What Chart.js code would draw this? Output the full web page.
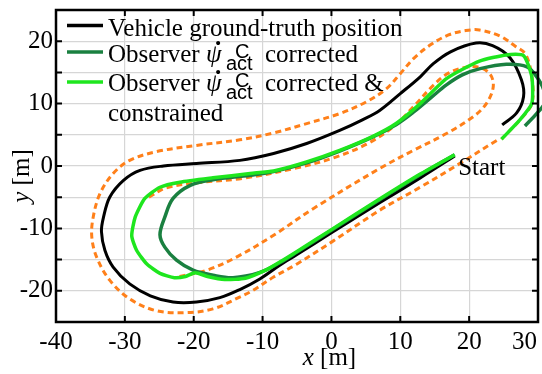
<!DOCTYPE html>
<html>
<head>
<meta charset="utf-8">
<title>Vehicle and observer trajectories</title>
<script src="https://cdn.jsdelivr.net/npm/chart.js@4.4.1/dist/chart.umd.min.js"></script>
<style>
  html, body { margin: 0; padding: 0; background: #fff; }
  #box { position: relative; width: 542px; height: 374px; }
</style>
</head>
<body>
<div id="box"><canvas id="plot"></canvas></div>
<script>
// Grid / tick positions
const xGridValues = [-40, -30, -20, -10, 0, 10, 20, 30];
const yGridValues = [-25, -20, -15, -10, -5, 0, 5, 10, 15, 20, 25];
const yTickLabels = [-20, -10, 0, 10, 20];

// Vehicle ground-truth position [m]
const truthX = [17.9, 12.9, 7.0, 0.0, -5.0, -7.5, -10.4, -13.3, -16.2, -19.6, -23.0, -26.3, -29.3, -31.7, -32.9, -33.4, -33.1, -32.2, -30.2, -27.8, -24.4, -19.6, -13.3, -8.4, -3.6, 1.2, 4.5, 7.0, 10.0, 12.9, 14.8, 17.3, 21.0, 23.4, 25.9, 27.6, 27.9, 26.9, 24.8];
const truthY = [1.6, -1.9, -5.9, -10.7, -14.2, -15.9, -18.1, -19.8, -21.1, -21.8, -21.8, -20.8, -18.9, -16.2, -13.5, -10.5, -8.2, -5.0, -2.3, -0.7, 0.0, 0.4, 0.9, 2.0, 3.6, 5.7, 7.4, 8.9, 11.6, 14.3, 16.4, 18.3, 19.7, 19.3, 17.4, 13.8, 11.1, 8.5, 6.6];

// Observer, yaw rate corrected
const obsX = [17.9, 12.9, 7.0, 0.0, -5.0, -7.5, -10.5, -14.3, -17.2, -20.1, -22.5, -24.2, -24.9, -24.2, -23.0, -20.5, -17.2, -11.8, -8.4, -3.6, 1.2, 6.1, 9.5, 12.0, 14.5, 16.7, 19.0, 21.6, 25.4, 28.4, 29.8, 30.8, 31.0, 29.8, 28.1];
const obsY = [1.8, -1.4, -5.4, -10.3, -13.8, -15.5, -17.1, -17.9, -17.5, -16.7, -15.1, -13.0, -11.0, -8.2, -5.2, -3.1, -2.2, -1.5, -0.9, 0.5, 2.4, 4.7, 6.7, 8.7, 11.0, 13.0, 14.6, 15.6, 16.3, 15.9, 14.3, 12.3, 10.2, 8.4, 6.4];

// Observer, yaw rate corrected and constrained to the track
const consX = [17.9, 12.9, 7.0, 0.0, -5.0, -7.5, -9.4, -12.5, -15.5, -18.0, -19.8, -21.2, -22.8, -24.9, -26.8, -28.3, -29.0, -28.5, -27.1, -24.9, -22.0, -17.2, -11.8, -8.4, -3.6, 1.2, 6.1, 9.5, 12.9, 16.7, 21.5, 25.4, 27.9, 29.1, 29.1, 27.3, 24.7];
const consY = [1.8, -1.3, -5.3, -10.2, -13.7, -15.4, -16.6, -18.0, -18.2, -17.7, -17.1, -17.7, -17.9, -17.2, -15.7, -13.5, -11.2, -8.2, -5.2, -3.4, -2.6, -1.9, -1.2, -0.8, 0.65, 2.5, 4.8, 6.9, 10.0, 14.0, 16.8, 17.8, 17.7, 14.3, 10.0, 7.3, 4.3];

// Track boundaries
const outerX = [24.0, 18.5, 12.9, 7.0, 0.0, -5.0, -8.4, -11.5, -13.5, -17.2, -21.0, -25.4, -29.3, -32.2, -34.1, -34.8, -34.6, -33.6, -31.7, -29.3, -25.4, -19.6, -13.3, -8.4, -3.6, 1.2, 5.1, 8.0, 10.0, 12.0, 14.5, 17.0, 19.5, 21.5, 24.5, 26.7, 28.2, 29.1, 29.1, 27.3, 24.7];
const outerY = [4.1, 0.3, -3.4, -7.1, -12.2, -15.7, -17.8, -20.0, -21.1, -22.9, -23.5, -23.2, -21.3, -18.3, -14.6, -11.4, -8.2, -4.4, -1.2, 0.9, 2.3, 3.3, 4.2, 5.3, 6.8, 8.4, 10.3, 12.4, 14.8, 17.3, 19.5, 21.0, 21.7, 21.8, 20.8, 19.2, 17.9, 14.3, 10.0, 7.3, 4.3];
const innerX = [-26.5, -24.0, -19.5, -13.0, -5.0, 0.3, 5.1, 9.0, 12.0, 14.5, 16.7, 19.0, 21.1, 23.0, 23.5, 22.5, 20.6, 16.7, 11.9, 7.0, -2.6, -8.4, -13.8, -18.1, -22.5];
const innerY = [-5.0, -3.5, -2.7, -2.0, -0.3, 1.3, 3.5, 6.3, 9.6, 12.6, 14.7, 15.7, 15.9, 14.8, 12.7, 10.0, 7.9, 5.2, 2.5, -0.4, -6.8, -11.1, -14.6, -16.7, -17.8];

// Start marker text position [m]
const startLabel = { text: 'Start', x: 18.4, y: -1.5 };

const SERIF = "'Liberation Serif', 'Times New Roman', serif";
const SANS = "'Liberation Sans', Arial, sans-serif";
const ORANGE = '#ff801a';

const pts = (xs, ys) => xs.map((v, i) => ({ x: v, y: ys[i] }));

function drawLegend(chart) {
  const ctx = chart.ctx;
  const ds = chart.data.datasets;
  const x0 = 67, x1 = 103, tx = 108;
  const rows = [
    { ds: 0, lineY: 25.5, base: 36, text: 'Vehicle ground-truth position' },
    { ds: 1, lineY: 52, base: 62, math: true, tail: 'corrected' },
    { ds: 2, lineY: 82, base: 91, math: true, tail: 'corrected &' },
    { ds: null, base: 121, text: 'constrained' }
  ];
  ctx.save();
  ctx.textBaseline = 'alphabetic';
  ctx.textAlign = 'left';
  ctx.fillStyle = '#000';
  rows.forEach(r => {
    if (r.ds !== null) {
      ctx.strokeStyle = ds[r.ds].borderColor;
      ctx.lineWidth = 3.5;
      ctx.setLineDash([]);
      ctx.beginPath();
      ctx.moveTo(x0, r.lineY);
      ctx.lineTo(x1, r.lineY);
      ctx.stroke();
    }
    ctx.font = `25px ${SERIF}`;
    if (!r.math) {
      ctx.fillText(r.text, tx, r.base);
      return;
    }
    ctx.fillText('Observer', tx, r.base);
    // psi with a time-derivative dot
    ctx.font = `italic 25px ${SERIF}`;
    ctx.fillText('\u03C8', 206, r.base);
    ctx.font = `bold 25px ${SERIF}`;
    ctx.fillText('.', 215, r.base - 17);
    ctx.font = `20px ${SANS}`;
    ctx.fillText('C', 235, r.base - 4);
    ctx.fillText('act', 226, r.base + 8);
    ctx.font = `25px ${SERIF}`;
    ctx.fillText(r.tail, 265, r.base);
  });
  ctx.restore();
}

const overlay = {
  id: 'overlay',
  afterDatasetsDraw(chart) {
    const { ctx, chartArea: a, scales } = chart;
    const sx = scales.x, sy = scales.y;
    ctx.save();
    ctx.strokeStyle = '#000';
    ctx.setLineDash([]);
    ctx.lineWidth = 2;
    ctx.beginPath();
    const L = 6;
    xGridValues.forEach(v => {
      if (v === sx.min || v === sx.max) return;
      const p = sx.getPixelForValue(v);
      ctx.moveTo(p, a.bottom); ctx.lineTo(p, a.bottom - L);
      ctx.moveTo(p, a.top); ctx.lineTo(p, a.top + L);
    });
    yGridValues.forEach(v => {
      if (v === sy.min || v === sy.max) return;
      const p = sy.getPixelForValue(v);
      ctx.moveTo(a.left, p); ctx.lineTo(a.left + L, p);
      ctx.moveTo(a.right, p); ctx.lineTo(a.right - L, p);
    });
    ctx.stroke();
    ctx.lineWidth = 2.5;
    ctx.strokeRect(a.left, a.top, a.right - a.left, a.bottom - a.top);
    ctx.restore();
  },
  afterDraw(chart) {
    const { ctx, chartArea: a, scales } = chart;
    const sx = scales.x, sy = scales.y;
    ctx.save();
    ctx.fillStyle = '#000';

    // last x tick label, kept inside the frame
    let ly = a.bottom + 21, base = 'middle';
    if (sx.getLabelItems) {
      const items = sx.getLabelItems();
      const ref = items.find(it => it.label === '20');
      if (ref) {
        ly = ref.options.translation[1] + (ref.textOffset || 0);
        base = ref.options.textBaseline || 'middle';
      }
    }
    ctx.font = `25px ${SERIF}`;
    ctx.textAlign = 'right';
    ctx.textBaseline = base;
    ctx.fillText(String(xGridValues[xGridValues.length - 1]), a.right - 1, ly);

    // x axis title
    ctx.textBaseline = 'alphabetic';
    ctx.textAlign = 'left';
    ctx.font = `italic 25px ${SERIF}`;
    const wx = ctx.measureText('x').width;
    ctx.font = `25px ${SERIF}`;
    const wm = ctx.measureText(' [m]').width;
    const cx = sx.getPixelForValue(0) - 2;
    let px = cx - (wx + wm) / 2;
    ctx.font = `italic 25px ${SERIF}`;
    ctx.fillText('x', px, 365);
    ctx.font = `25px ${SERIF}`;
    ctx.fillText(' [m]', px + wx, 365);

    // y axis title
    ctx.save();
    ctx.translate(29, (a.top + a.bottom) / 2 + 10);
    ctx.rotate(-Math.PI / 2);
    ctx.font = `italic 25px ${SERIF}`;
    const wy = ctx.measureText('y').width;
    px = -(wy + wm) / 2;
    ctx.fillText('y', px, 0);
    ctx.font = `25px ${SERIF}`;
    ctx.fillText(' [m]', px + wy, 0);
    ctx.restore();

    // start marker text
    ctx.font = `25px ${SERIF}`;
    ctx.fillText(startLabel.text, sx.getPixelForValue(startLabel.x), sy.getPixelForValue(startLabel.y));

    drawLegend(chart);
    ctx.restore();
  }
};

const lineDs = (label, xs, ys, color, width, order, extra) => Object.assign({
  label, data: pts(xs, ys), showLine: true, borderColor: color, backgroundColor: color,
  borderWidth: width, pointRadius: 0, pointHoverRadius: 0, fill: false,
  tension: 0.35, order, clip: false
}, extra || {});

new Chart(document.getElementById('plot'), {
  type: 'scatter',
  data: {
    datasets: [
      lineDs('Vehicle ground-truth position', truthX, truthY, '#000000', 3, 2),
      lineDs('Observer corrected', obsX, obsY, '#1a8040', 3.5, 1),
      lineDs('Observer corrected & constrained', consX, consY, '#1ee61e', 3.5, 0, { tension: 0.2 }),
      lineDs('Outer boundary', outerX, outerY, ORANGE, 3, 3, { borderDash: [6, 4] }),
      lineDs('Inner boundary', innerX, innerY, ORANGE, 3, 3, { borderDash: [6, 4] })
    ]
  },
  options: {
    responsive: true,
    maintainAspectRatio: false,
    devicePixelRatio: 1,
    animation: false,
    layout: { padding: { top: 10, right: 4, bottom: 0, left: 0 } },
    plugins: { legend: { display: false }, tooltip: { enabled: false } },
    scales: {
      x: {
        type: 'linear', min: -40, max: 30,
        afterBuildTicks: s => { s.ticks = xGridValues.map(v => ({ value: v })); },
        afterFit: s => { s.height = 52; s.paddingLeft = 0; s.paddingRight = 0; },
        ticks: {
          autoSkip: false, maxRotation: 0, padding: 5, color: '#000',
          font: { family: SERIF, size: 25 },
          callback: v => (v === xGridValues[xGridValues.length - 1] ? '' : String(v))
        },
        grid: { color: '#d6d6d6', lineWidth: 1.2, drawTicks: false },
        border: { display: false }
      },
      y: {
        type: 'linear', min: -25, max: 25,
        afterBuildTicks: s => { s.ticks = yGridValues.map(v => ({ value: v })); },
        afterFit: s => { s.width = 56; s.paddingTop = 0; s.paddingBottom = 0; },
        ticks: {
          autoSkip: false, padding: 3, color: '#000',
          font: { family: SERIF, size: 25 },
          callback: v => (yTickLabels.includes(v) ? String(v) : '')
        },
        grid: { color: '#d6d6d6', lineWidth: 1.2, drawTicks: false },
        border: { display: false }
      }
    }
  },
  plugins: [overlay]
});
</script>
</body>
</html>
